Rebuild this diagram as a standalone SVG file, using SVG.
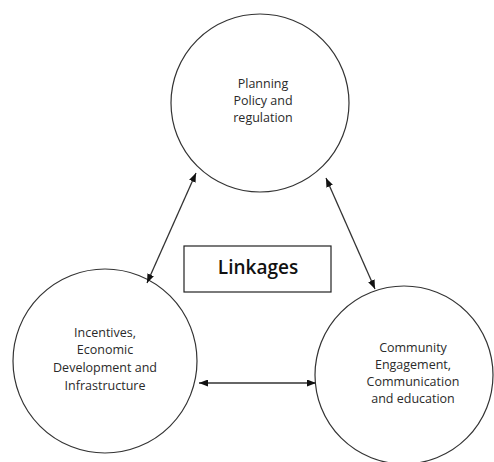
<svg xmlns="http://www.w3.org/2000/svg" width="494" height="462" viewBox="0 0 494 462">
  <style>
    .node circle { fill: #ffffff; stroke: #333333; stroke-width: 1.2; }
    .label { font-family: "Open Sans", "Liberation Sans", sans-serif; font-size: 12.5px; fill: #2a2a2a; text-anchor: middle; }
    .title { font-family: "Open Sans", "Liberation Sans", sans-serif; font-size: 19px; font-weight: 600; fill: #111111; text-anchor: middle; }
    .conn line { stroke: #333333; stroke-width: 1.3; marker-start: url(#ah); marker-end: url(#ah); }
  </style>
  <defs>
    <marker id="ah" viewBox="0 0 9 7" refX="9" refY="3.5" markerWidth="9" markerHeight="7" markerUnits="userSpaceOnUse" orient="auto-start-reverse">
      <path d="M0,0 L9,3.5 L0,7 z" fill="#111111"/>
    </marker>
  </defs>
  <rect width="494" height="462" fill="#ffffff"/>

  <g id="node-planning" class="node">
    <circle cx="260" cy="103" r="89"/>
    <text class="label" x="263" y="87.5">Planning</text>
    <text class="label" x="263" y="104.5">Policy and</text>
    <text class="label" x="263" y="121.5">regulation</text>
  </g>

  <g id="node-incentives" class="node">
    <circle cx="105" cy="361" r="92"/>
    <text class="label" x="105" y="336.5">Incentives,</text>
    <text class="label" x="105" y="354.2">Economic</text>
    <text class="label" x="105" y="371.9">Development and</text>
    <text class="label" x="105" y="389.6">Infrastructure</text>
  </g>

  <g id="node-community" class="node">
    <circle cx="404" cy="375" r="89"/>
    <text class="label" x="413" y="351.5">Community</text>
    <text class="label" x="413" y="368.5">Engagement,</text>
    <text class="label" x="413" y="386">Communication</text>
    <text class="label" x="413" y="403">and education</text>
  </g>

  <g id="node-linkages">
    <rect x="184" y="246" width="147" height="46" fill="#ffffff" stroke="#222222" stroke-width="1.2"/>
    <text class="title" x="258" y="274">Linkages</text>
  </g>

  <g id="connectors" class="conn">
    <line x1="147" y1="283" x2="196" y2="173"/>
    <line x1="326" y1="178" x2="375" y2="289"/>
    <line x1="199" y1="383" x2="316" y2="383"/>
  </g>
</svg>
